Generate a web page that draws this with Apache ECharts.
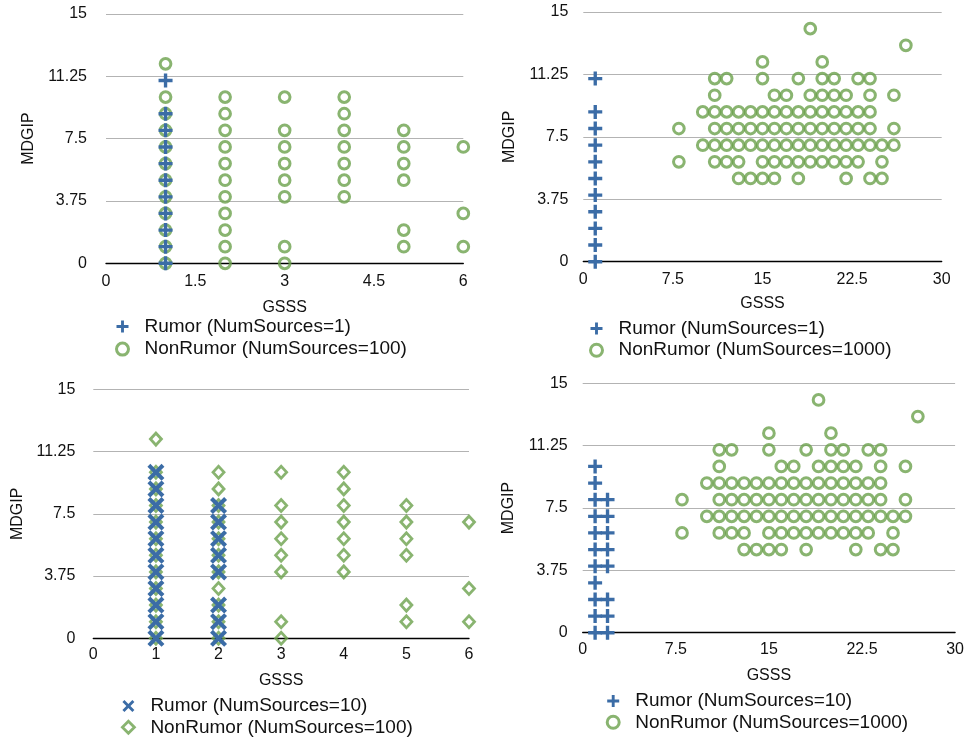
<!DOCTYPE html>
<html>
<head>
<meta charset="utf-8">
<script src="https://cdn.jsdelivr.net/npm/echarts@6/dist/echarts.min.js"></script>
<style>
  html, body { margin: 0; padding: 0; background: #fff; }
  .pane { position: absolute; width: 484px; height: 370px; }
</style>
</head>
<body>
<div id="c1" class="pane" style="left:0;top:0"></div>
<div id="c2" class="pane" style="left:484px;top:0;width:483px"></div>
<div id="c3" class="pane" style="left:0;top:370px"></div>
<div id="c4" class="pane" style="left:484px;top:370px;width:483px"></div>
<script>
// NonRumor (NumSources=100): MDGIP values listed per GSSS column
var gsss100 = [1, 2, 3, 4, 5, 6];
var mdgip100 = [
    [0, 1, 2, 3, 4, 5, 6, 7, 8, 9, 10, 12],
    [0, 1, 2, 3, 4, 5, 6, 7, 8, 9, 10],
    [0, 1, 4, 5, 6, 7, 8, 10],
    [4, 5, 6, 7, 8, 9, 10],
    [1, 2, 5, 6, 7, 8],
    [1, 3, 7]
];

// NonRumor (NumSources=1000): GSSS values listed per MDGIP row
var mdgip1000 = [14, 13, 12, 11, 10, 9, 8, 7, 6, 5];
var gsss1000 = [
    [19],
    [27],
    [15, 20],
    [11, 12, 15, 18, 20, 21, 23, 24],
    [11, 16, 17, 19, 20, 21, 22, 24, 26],
    [10, 11, 12, 13, 14, 15, 16, 17, 18, 19, 20, 21, 22, 23, 24],
    [8, 11, 12, 13, 14, 15, 16, 17, 18, 19, 20, 21, 22, 23, 24, 26],
    [10, 11, 12, 13, 14, 15, 16, 17, 18, 19, 20, 21, 22, 23, 24, 25, 26],
    [8, 11, 12, 13, 15, 16, 17, 18, 19, 20, 21, 22, 23, 25],
    [13, 14, 15, 16, 18, 22, 24, 25]
];

// Rumor (NumSources=1)
var gsssRumor1 = [1];
var mdgipRumor1 = [
    [0, 1, 2, 3, 4, 5, 6, 7, 8, 9, 11]
];

// Rumor (NumSources=10)
var gsssRumor10 = [1, 2];
var mdgipRumor10 = [
    [0, 1, 2, 3, 4, 5, 6, 7, 8, 9, 10],
    [0, 1, 2, 4, 5, 6, 7, 8]
];

var yTicks = [0, 3.75, 7.5, 11.25, 15];

var BLUE = '#3b6ca6';
var GREEN = '#6ca14c';
var TEXT = '#111';
var FONT = '"Liberation Sans", Arial, sans-serif';
var PLUS = 'path://M3.8,0H6.2V3.8H10V6.2H6.2V10H3.8V6.2H0V3.8H3.8Z';
var CROSS = 'path://M0,1.7L1.7,0L5,3.3L8.3,0L10,1.7L6.7,5L10,8.3L8.3,10L5,6.7L1.7,10L0,8.3L3.3,5Z';

function byColumn(xs, ys) {
    var out = [];
    for (var i = 0; i < xs.length; ++i) {
        for (var j = 0; j < ys[i].length; ++j) {
            out.push([xs[i], ys[i][j]]);
        }
    }
    return out;
}

function byRow(ys, xs) {
    var out = [];
    for (var i = 0; i < ys.length; ++i) {
        for (var j = 0; j < xs[i].length; ++j) {
            out.push([xs[i][j], ys[i]]);
        }
    }
    return out;
}

function makeChart(id, p) {
    var hollow = { color: 'rgba(0,0,0,0)', borderColor: GREEN, borderWidth: p.greenBorder };
    var option = {
        animation: false,
        grid: { left: p.grid[0], top: p.grid[1], width: p.grid[2], height: p.grid[3] },
        legend: {
            orient: 'vertical',
            left: p.legend[0],
            top: p.legend[1],
            padding: 0,
            itemGap: p.legend[2],
            itemWidth: 12,
            itemHeight: 12,
            selectedMode: false,
            textStyle: { fontFamily: FONT, fontSize: 19, color: TEXT, lineHeight: 19, padding: [0, 0, 0, 11] },
            data: [
                { name: p.rumorName, itemStyle: { color: BLUE, borderWidth: 0 } },
                { name: p.nonName, itemStyle: hollow }
            ]
        },
        xAxis: {
            type: 'value', min: 0, max: p.xMax, interval: p.xInterval,
            name: 'GSSS', nameLocation: 'middle', nameGap: p.xNameGap,
            nameTextStyle: { fontFamily: FONT, fontSize: 16, color: TEXT },
            axisLine: { lineStyle: { color: '#000', width: 1.3 } },
            axisTick: { show: false },
            splitLine: { show: false },
            axisLabel: { fontFamily: FONT, fontSize: 16, color: TEXT, margin: p.xLabelMargin }
        },
        yAxis: {
            type: 'value', min: yTicks[0], max: yTicks[yTicks.length - 1], interval: yTicks[1] - yTicks[0],
            name: 'MDGIP', nameLocation: 'middle', nameRotate: 90, nameGap: p.yNameGap,
            nameTextStyle: { fontFamily: FONT, fontSize: 16, color: TEXT },
            axisLine: { show: false },
            axisTick: { show: false },
            splitLine: { lineStyle: { color: '#b3b3b3', width: 1 } },
            axisLabel: { fontFamily: FONT, fontSize: 16, color: TEXT, margin: p.yLabelMargin }
        },
        series: [
            {
                name: p.nonName, type: 'scatter', symbol: p.nonSymbol, symbolSize: p.nonSize,
                itemStyle: hollow, emphasis: { disabled: true }, data: p.nonData
            },
            {
                name: p.rumorName, type: 'scatter', symbol: p.rumorSymbol, symbolSize: p.rumorSize,
                itemStyle: { color: BLUE, opacity: 1 }, emphasis: { disabled: true }, data: p.rumorData
            }
        ]
    };
    echarts.init(document.getElementById(id)).setOption(option);
}

makeChart('c1', {
    grid: [106, 14, 357.3, 249.3], legend: [115, 317, 3.6],
    xMax: 6, xInterval: 1.5, xNameGap: 36, xLabelMargin: 10, yNameGap: 69, yLabelMargin: 19,
    rumorName: 'Rumor (NumSources=1)', nonName: 'NonRumor (NumSources=100)',
    rumorSymbol: PLUS, rumorSize: 14, nonSymbol: 'circle', nonSize: 10.7, greenBorder: 3,
    rumorData: byColumn(gsssRumor1, mdgipRumor1), nonData: byColumn(gsss100, mdgip100)
});

makeChart('c2', {
    grid: [99.3, 12, 358.4, 249.7], legend: [105, 319, 2.7],
    xMax: 30, xInterval: 7.5, xNameGap: 34, xLabelMargin: 9.5, yNameGap: 66, yLabelMargin: 15,
    rumorName: 'Rumor (NumSources=1)', nonName: 'NonRumor (NumSources=1000)',
    rumorSymbol: PLUS, rumorSize: 14, nonSymbol: 'circle', nonSize: 10.7, greenBorder: 3,
    rumorData: byColumn(gsssRumor1, mdgipRumor1), nonData: byRow(mdgip1000, gsss1000)
});

makeChart('c3', {
    grid: [93.3, 19.3, 375.7, 249], legend: [121, 326.5, 2.3],
    xMax: 6, xInterval: 1, xNameGap: 34.5, xLabelMargin: 8, yNameGap: 66, yLabelMargin: 18,
    rumorName: 'Rumor (NumSources=10)', nonName: 'NonRumor (NumSources=100)',
    rumorSymbol: CROSS, rumorSize: 17, nonSymbol: 'diamond', nonSize: [11, 12], greenBorder: 2.8,
    rumorData: byColumn(gsssRumor10, mdgipRumor10), nonData: byColumn(gsss100, mdgip100)
});

makeChart('c4', {
    grid: [98.7, 13.3, 375.6, 249.4], legend: [121.7, 321.5, 2.3],
    xMax: 30, xInterval: 7.5, xNameGap: 35, xLabelMargin: 9.3, yNameGap: 66, yLabelMargin: 15,
    rumorName: 'Rumor (NumSources=10)', nonName: 'NonRumor (NumSources=1000)',
    rumorSymbol: PLUS, rumorSize: 14, nonSymbol: 'circle', nonSize: 10.7, greenBorder: 3,
    rumorData: byColumn(gsssRumor10, mdgipRumor10), nonData: byRow(mdgip1000, gsss1000)
});
</script>
</body>
</html>
